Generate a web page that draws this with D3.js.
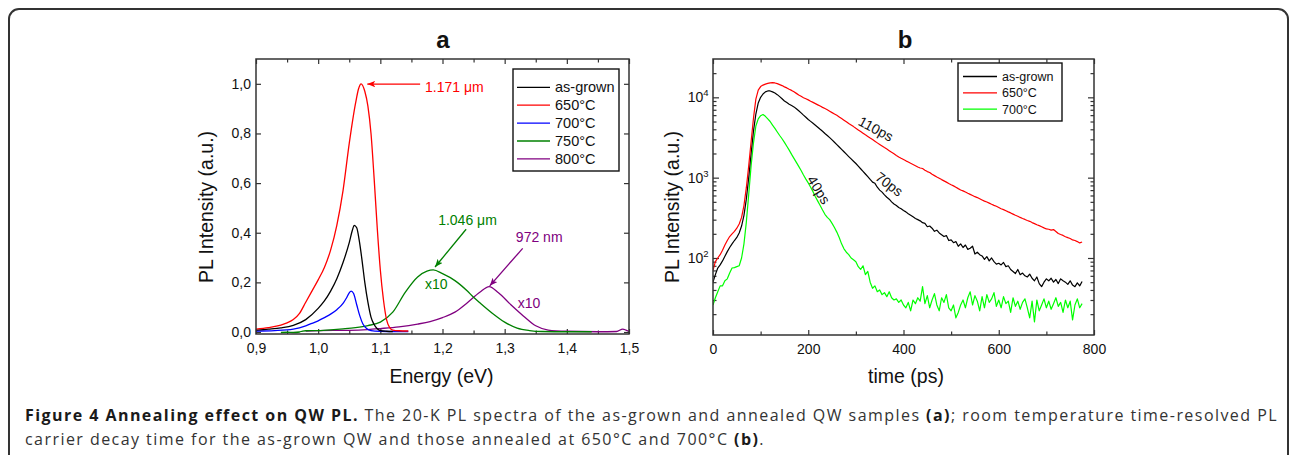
<!DOCTYPE html>
<html><head><meta charset="utf-8">
<script src="https://cdn.jsdelivr.net/npm/d3@7"></script>
<style>body{margin:0;background:#fff}svg{display:block}</style>
</head><body>
<svg id="c" width="1290" height="455"></svg>
<script>
// ---------- Panel a: 20-K PL spectra ----------
const seriesNamesA = ["as-grown", "650°C", "700°C", "750°C", "800°C"];
const seriesColorsA = ["#000000", "#ff0000", "#0000ff", "#008000", "#800080"];

const eAsGrown = [0.90,0.92,0.94,0.96,0.98,1.00,1.01,1.02,1.03,1.04,1.05,1.055,1.058,1.062,1.066,1.07,1.075,1.08,1.085,1.09,1.095,1.10,1.11,1.12];
const iAsGrown = [0.008,0.012,0.017,0.027,0.05,0.095,0.125,0.165,0.215,0.28,0.36,0.41,0.43,0.42,0.37,0.30,0.20,0.12,0.06,0.03,0.013,0.006,0.003,0.002];

const e650 = [0.90,0.92,0.94,0.95,0.96,0.97,0.98,0.99,1.00,1.01,1.02,1.03,1.04,1.05,1.06,1.065,1.069,1.075,1.08,1.085,1.09,1.095,1.10,1.105,1.11,1.115,1.12,1.13,1.145];
const i650 = [0.012,0.018,0.028,0.037,0.05,0.075,0.12,0.165,0.21,0.26,0.33,0.43,0.57,0.76,0.92,0.98,1.0,0.97,0.91,0.80,0.62,0.42,0.25,0.13,0.05,0.018,0.008,0.005,0.004];

const e700 = [0.90,0.93,0.96,0.98,0.99,1.00,1.01,1.02,1.03,1.04,1.045,1.05,1.053,1.057,1.062,1.067,1.072,1.078,1.085,1.10,1.12,1.145];
const i700 = [0.004,0.006,0.012,0.025,0.035,0.045,0.058,0.072,0.09,0.115,0.135,0.158,0.165,0.155,0.11,0.065,0.032,0.014,0.006,0.003,0.002,0.002];

const e750 = [0.94,0.95,0.96,0.97,0.975,0.98,1.00,1.02,1.04,1.06,1.08,1.10,1.12,1.14,1.16,1.175,1.185,1.20,1.22,1.24,1.25,1.26,1.28,1.30,1.32,1.34,1.36,1.40,1.44];
const i750 = [-0.002,-0.001,-0.002,0.0,0.004,0.005,0.006,0.009,0.013,0.018,0.026,0.04,0.08,0.16,0.222,0.245,0.25,0.235,0.207,0.165,0.14,0.118,0.076,0.04,0.016,0.006,0.002,0.001,0.001];

const e800 = [0.98,1.00,1.05,1.08,1.10,1.13,1.16,1.18,1.20,1.22,1.24,1.26,1.275,1.29,1.31,1.33,1.35,1.37,1.40,1.45,1.48,1.49,1.495,1.50];
const i800 = [0.004,0.006,0.007,0.01,0.014,0.021,0.032,0.042,0.058,0.08,0.118,0.16,0.183,0.158,0.11,0.065,0.025,0.008,0.003,0.001,0.002,0.012,0.008,0.002];

const energyTicks = [0.9,1.0,1.1,1.2,1.3,1.4,1.5];
const energyMinor = [0.95,1.05,1.15,1.25,1.35,1.45];
const intensityTicks = [0.0,0.2,0.4,0.6,0.8,1.0];

// ---------- Panel b: time-resolved PL ----------
const seriesNamesB = ["as-grown", "650°C", "700°C"];
const seriesColorsB = ["#000000", "#ff0000", "#00ff00"];

const timePs = [
  0,5,10,15,20,25,30,35,40,45, 50,55,60,65,70,75,80,85,90,95,
  100,105,110,115,120,125,130,135,140,145, 150,155,160,165,170,175,180,185,190,195,
  200,205,210,215,220,225,230,235,240,245, 250,255,260,265,270,275,280,285,290,295,
  300,305,310,315,320,325,330,335,340,345, 350,355,360,365,370,375,380,385,390,395,
  400,405,410,415,420,425,430,435,440,445, 450,455,460,465,470,475,480,485,490,495,
  500,505,510,515,520,525,530,535,540,545, 550,555,560,565,570,575,580,585,590,595,
  600,605,610,615,620,625,630,635,640,645, 650,655,660,665,670,675,680,685,690,695,
  700,705,710,715,720,725,730,735,740,745, 750,755,760,765,770,775];

const decayAsGrown = [
  50,62,75,82,92,105,120,135,150,165, 180,205,250,340,540,1000,2000,3800,6200,8500,
  10000,11000,11700,12000,12000,11700,11300,10800,10200,9600, 9000,8600,8200,7900,7600,7200,6800,6400,6000,5650,
  5300,5020,4750,4500,4250,4000,3780,3550,3350,3150, 2950,2760,2580,2410,2250,2100,1960,1830,1710,1600,
  1500,1390,1290,1200,1110,1030,950,880,850,760, 700,660,610,570,540,500,470,450,425,410,
  390,375,355,340,325,310,300,290,275,270, 245,250,235,215,222,205,195,185,190,165,
  168,155,160,140,150,135,145,128,132,140, 112,118,110,106,96,104,92,100,90,84,
  86,82,88,78,80,72,68,64,72,62, 65,60,58,63,56,52,58,48,44,50,
  55,52,56,50,54,48,55,52,50,47, 52,46,44,49,45,51];

const decay650 = [
  70,90,100,110,125,145,165,185,200,215, 235,265,320,450,750,1400,2800,5500,9500,12300,
  13600,14200,14600,14900,15100,15200,15100,14800,14400,14000, 13500,13100,12600,12200,11700,11200,10700,10300,9900,9600,
  9300,8950,8650,8350,8060,7780,7500,7250,7000,6720, 6450,6200,5970,5700,5450,5200,4950,4720,4520,4320,
  4110,3930,3760,3580,3410,3260,3110,2980,2840,2710, 2590,2480,2370,2270,2170,2070,1980,1890,1810,1740,
  1680,1620,1570,1510,1460,1410,1360,1320,1300,1240, 1190,1160,1100,1060,1020,985,946,912,880,845,
  815,790,760,730,703,685,662,640,620,600, 580,565,546,528,510,497,482,466,452,440,
  425,410,400,388,375,364,352,340,331,320, 310,302,293,286,276,268,259,253,245,237,
  230,228,222,226,214,202,196,191,184,179, 175,168,165,160,154,158];

const decay700 = [
  26,32,38,45,45,52,55,65,75,76, 78,80,100,150,280,620,1400,2700,4400,5400,
  5900,6100,5800,5400,5000,4500,4100,3700,3350,3050, 2750,2460,2200,1950,1740,1550,1380,1230,1080,960,
  860,760,670,580,510,450,395,350,320,300, 270,240,210,180,150,130,118,110,100,95,
  90,78,72,80,62,68,50,42,45,38, 40,35,37,33,38,32,30,31,28,30,
  26,24,28,22,30,27,32,29,44,27, 34,24,30,36,26,22,32,28,35,24,
  22,26,18,21,26,30,24,32,38,26, 34,29,22,33,24,35,28,31,37,25,
  30,24,33,27,29,21,32,25,29,23, 28,31,24,18,29,16,30,22,26,31,
  24,29,23,27,32,25,28,21,30,24, 29,17,26,31,24,27];

const timeTicks = [0,200,400,600,800];
const timeMinor = [100,300,500,700];
const decadeTicks = [100,1000,10000];
const decadeLabels = ["2","3","4"];
const logMinor = [20,30,40,50,60,70,80,90,200,300,400,500,600,700,800,900,2000,3000,4000,5000,6000,7000,8000,9000,20000];

// annotation text (positions in data units)
const annotA = [
  {text:"1.171 μm", color:"#ff0000", x:1.172, y:0.968},
  {text:"1.046 μm", color:"#008000", x:1.193, y:0.432},
  {text:"x10", color:"#008000", x:1.172, y:0.173},
  {text:"972 nm", color:"#800080", x:1.318, y:0.361},
  {text:"x10", color:"#800080", x:1.321, y:0.098}
];
const arrowsA = [
  {color:"#ff0000", x1:1.164, y1:0.999, x2:1.079, y2:0.999},
  {color:"#008000", x1:1.238, y1:0.414, x2:1.188, y2:0.262},
  {color:"#800080", x1:1.329, y1:0.337, x2:1.276, y2:0.186}
];
const annotB = [
  {text:"110ps", t:342, v:4040, angle:28},
  {text:"70ps", t:370, v:830, angle:37},
  {text:"40ps", t:222, v:705, angle:58}
];

// ---------- drawing ----------
const FONT = "'Liberation Sans', Arial, sans-serif";
const svg = d3.select("#c");
const defs = svg.append("defs");

// outer rounded frame
svg.append("rect").attr("x",9).attr("y",9).attr("width",1279).attr("height",520)
  .attr("rx",10).attr("fill","none").attr("stroke","#333").attr("stroke-width",2);

const xA = d3.scaleLinear().domain([0.9,1.5]).range([256,629]);
const yA = d3.scaleLinear().domain([-0.008,1.1]).range([334,59]);
const xB = d3.scaleLinear().domain([0,800]).range([713,1094]);
const yB = d3.scaleLog().domain([11,30000]).range([335,59]);

function styleAxis(g, size) {
  g.select(".domain").remove();
  g.selectAll(".tick line").attr("stroke","#333").attr("stroke-width",1.2);
  g.selectAll("text").attr("font-family",FONT).attr("font-size",size).attr("fill","#111");
  g.attr("font-family",FONT);
}

function frame(x, y, id) {
  const [x0,x1] = x.range(), [y0,y1] = y.range();
  defs.append("clipPath").attr("id",id).append("rect")
    .attr("x",x0).attr("y",y1).attr("width",x1-x0).attr("height",y0-y1);
  return {x0,x1,y0,y1};
}

// ===== Panel a =====
const fA = frame(xA, yA, "clipA");
const fmtComma = d => d.toFixed(1).replace(".", ",");
const gA = svg.append("g");
gA.append("g").attr("transform",`translate(0,${fA.y0})`)
  .call(d3.axisBottom(xA).tickValues(energyTicks).tickSize(-5).tickPadding(9).tickFormat(fmtComma))
  .call(g=>styleAxis(g,14));
gA.append("g").attr("transform",`translate(0,${fA.y0})`)
  .call(d3.axisBottom(xA).tickValues(energyMinor).tickSize(-3.5).tickFormat(""))
  .call(g=>styleAxis(g,14));
gA.append("g").attr("transform",`translate(0,${fA.y1})`)
  .call(d3.axisTop(xA).tickValues(energyTicks).tickSize(-5).tickFormat(""))
  .call(g=>styleAxis(g,14));
gA.append("g").attr("transform",`translate(0,${fA.y1})`)
  .call(d3.axisTop(xA).tickValues(energyMinor).tickSize(-3.5).tickFormat(""))
  .call(g=>styleAxis(g,14));
gA.append("g").attr("transform",`translate(${fA.x0},0)`)
  .call(d3.axisLeft(yA).tickValues(intensityTicks).tickSize(-5).tickPadding(5).tickFormat(fmtComma))
  .call(g=>styleAxis(g,14));
gA.append("g").attr("transform",`translate(${fA.x1},0)`)
  .call(d3.axisRight(yA).tickValues(intensityTicks).tickSize(-5).tickFormat(""))
  .call(g=>styleAxis(g,14));

const seriesA = [[eAsGrown,iAsGrown],[e650,i650],[e700,i700],[e750,i750],[e800,i800]]
  .map(([e,v],k)=>({color:seriesColorsA[k], pts:e.map((x,i)=>[x,v[i]])}));
const lineA = d3.line().x(d=>xA(d[0])).y(d=>yA(d[1])).curve(d3.curveMonotoneX);
const drawOrderA = [4,3,2,0,1];
gA.append("g").attr("clip-path","url(#clipA)")
  .selectAll("path").data(drawOrderA.map(k=>seriesA[k])).join("path")
  .attr("d",d=>lineA(d.pts)).attr("fill","none").attr("stroke",d=>d.color).attr("stroke-width",1.3);

gA.append("rect").attr("x",fA.x0).attr("y",fA.y1).attr("width",fA.x1-fA.x0).attr("height",fA.y0-fA.y1)
  .attr("fill","none").attr("stroke","#333").attr("stroke-width",1.5);

// arrows
arrowsA.forEach((a,i)=>{
  defs.append("marker").attr("id","arr"+i).attr("viewBox","0 0 10 8").attr("refX",10).attr("refY",4)
    .attr("markerWidth",8).attr("markerHeight",6.5).attr("markerUnits","userSpaceOnUse").attr("orient","auto")
    .append("path").attr("d","M0,0 L10,4 L0,8 L2.5,4 z").attr("fill",a.color);
});
gA.selectAll("line.arrow").data(arrowsA).join("line").attr("class","arrow")
  .attr("x1",d=>xA(d.x1)).attr("y1",d=>yA(d.y1)).attr("x2",d=>xA(d.x2)).attr("y2",d=>yA(d.y2))
  .attr("stroke",d=>d.color).attr("stroke-width",1.3).attr("marker-end",(d,i)=>`url(#arr${i})`);
gA.selectAll("text.ann").data(annotA).join("text").attr("class","ann")
  .attr("x",d=>xA(d.x)).attr("y",d=>yA(d.y)).attr("fill",d=>d.color)
  .attr("font-family",FONT).attr("font-size",14).text(d=>d.text);

// legend a
const legA = gA.append("g");
legA.append("rect").attr("x",513).attr("y",69).attr("width",106).attr("height",102)
  .attr("fill","#fff").attr("stroke","#111").attr("stroke-width",1.4);
seriesNamesA.forEach((n,i)=>{
  const yy = 87.3 + i*17.9;
  legA.append("line").attr("x1",517).attr("x2",550).attr("y1",yy).attr("y2",yy)
    .attr("stroke",seriesColorsA[i]).attr("stroke-width",1.3);
  legA.append("text").attr("x",555).attr("y",yy+5).attr("font-family",FONT).attr("font-size",14.5)
    .attr("fill","#111").text(n);
});

// titles a
svg.append("text").attr("x",443).attr("y",48).attr("text-anchor","middle").attr("font-family",FONT)
  .attr("font-weight","bold").attr("font-size",24).attr("fill","#111").text("a");
svg.append("text").attr("x",(fA.x0+fA.x1)/2 - 1).attr("y",383).attr("text-anchor","middle")
  .attr("font-family",FONT).attr("font-size",19.5).attr("fill","#111").text("Energy (eV)");
svg.append("text").attr("transform","translate(213,207) rotate(-90)").attr("text-anchor","middle")
  .attr("font-family",FONT).attr("font-size",19.5).attr("fill","#111").text("PL Intensity (a.u.)");

// ===== Panel b =====
const fB = frame(xB, yB, "clipB");
const gB = svg.append("g");
gB.append("g").attr("transform",`translate(0,${fB.y0})`)
  .call(d3.axisBottom(xB).tickValues(timeTicks).tickSize(-5).tickPadding(9).tickFormat(d3.format("d")))
  .call(g=>styleAxis(g,14));
gB.append("g").attr("transform",`translate(0,${fB.y0})`)
  .call(d3.axisBottom(xB).tickValues(timeMinor).tickSize(-3.5).tickFormat(""))
  .call(g=>styleAxis(g,14));
gB.append("g").attr("transform",`translate(0,${fB.y1})`)
  .call(d3.axisTop(xB).tickValues(timeTicks).tickSize(-5).tickFormat(""))
  .call(g=>styleAxis(g,14));
gB.append("g").attr("transform",`translate(0,${fB.y1})`)
  .call(d3.axisTop(xB).tickValues(timeMinor).tickSize(-3.5).tickFormat(""))
  .call(g=>styleAxis(g,14));
[[fB.x0, d3.axisLeft],[fB.x1, d3.axisRight]].forEach(([xx,ax])=>{
  gB.append("g").attr("transform",`translate(${xx},0)`)
    .call(ax(yB).tickValues(decadeTicks).tickSize(-6).tickFormat(""))
    .call(g=>styleAxis(g,14));
  gB.append("g").attr("transform",`translate(${xx},0)`)
    .call(ax(yB).tickValues(logMinor).tickSize(-3.5).tickFormat(""))
    .call(g=>styleAxis(g,14));
});
// decade labels with superscripts
const decLab = gB.selectAll("text.dec").data(decadeTicks).join("text").attr("class","dec")
  .attr("x",fB.x0-4.5).attr("y",d=>yB(d)+5).attr("text-anchor","end")
  .attr("font-family",FONT).attr("font-size",14).attr("fill","#111");
decLab.append("tspan").text("10");
decLab.append("tspan").attr("dy",-6).attr("font-size",9.5).text((d,i)=>decadeLabels[i]);

const seriesB = [decayAsGrown, decay650, decay700]
  .map((v,k)=>({color:seriesColorsB[k], pts:timePs.map((t,i)=>[t,v[i]])}));
const lineB = d3.line().x(d=>xB(d[0])).y(d=>yB(d[1]));
gB.append("g").attr("clip-path","url(#clipB)")
  .selectAll("path").data([seriesB[2],seriesB[0],seriesB[1]]).join("path")
  .attr("d",d=>lineB(d.pts)).attr("fill","none").attr("stroke",d=>d.color).attr("stroke-width",1.2)
  .attr("stroke-linejoin","round");

gB.append("rect").attr("x",fB.x0).attr("y",fB.y1).attr("width",fB.x1-fB.x0).attr("height",fB.y0-fB.y1)
  .attr("fill","none").attr("stroke","#333").attr("stroke-width",1.5);

gB.selectAll("text.annb").data(annotB).join("text").attr("class","annb")
  .attr("transform",d=>`translate(${xB(d.t)},${yB(d.v)}) rotate(${d.angle})`)
  .attr("text-anchor","middle").attr("dy","0.35em")
  .attr("font-family",FONT).attr("font-size",14).attr("fill","#111").text(d=>d.text);

// legend b
const legB = gB.append("g");
legB.append("rect").attr("x",958).attr("y",63).attr("width",104).attr("height",58)
  .attr("fill","#fff").attr("stroke","#111").attr("stroke-width",1.4);
seriesNamesB.forEach((n,i)=>{
  const yy = 76.5 + i*16.3;
  legB.append("line").attr("x1",963).attr("x2",997).attr("y1",yy).attr("y2",yy)
    .attr("stroke",seriesColorsB[i]).attr("stroke-width",1.3);
  legB.append("text").attr("x",1002).attr("y",yy+4.5).attr("font-family",FONT).attr("font-size",12.5)
    .attr("fill","#111").text(n);
});

svg.append("text").attr("x",905).attr("y",48).attr("text-anchor","middle").attr("font-family",FONT)
  .attr("font-weight","bold").attr("font-size",24).attr("fill","#111").text("b");
svg.append("text").attr("x",906).attr("y",383).attr("text-anchor","middle")
  .attr("font-family",FONT).attr("font-size",19.5).attr("fill","#111").text("time (ps)");
svg.append("text").attr("transform","translate(679,207) rotate(-90)").attr("text-anchor","middle")
  .attr("font-family",FONT).attr("font-size",19.5).attr("fill","#111").text("PL Intensity (a.u.)");

// ===== Caption =====
const CAPFONT = "'Open Sans', 'Noto Sans', sans-serif";
const CAPSIZE = 16;
const cap1 = svg.append("text").attr("x",25).attr("y",421).attr("font-family",CAPFONT).attr("font-size",CAPSIZE).attr("fill","#333");
cap1.append("tspan").attr("font-weight","bold").attr("fill","#1a1a1a").text("Figure 4 Annealing effect on QW PL.");
cap1.append("tspan").text(" The 20-K PL spectra of the as-grown and annealed QW samples ");
cap1.append("tspan").attr("font-weight","bold").attr("fill","#1a1a1a").text("(a)");
cap1.append("tspan").text("; room temperature time-resolved PL");
const cap2 = svg.append("text").attr("x",25).attr("y",444.5).attr("font-family",CAPFONT).attr("font-size",CAPSIZE).attr("fill","#333");
cap2.append("tspan").text("carrier decay time for the as-grown QW and those annealed at 650°C and 700°C ");
cap2.append("tspan").attr("font-weight","bold").attr("fill","#1a1a1a").text("(b)");
cap2.append("tspan").text(".");
// spread line 1 to its measured width through letter spacing; same spacing for line 2
const w1 = cap1.node().getComputedTextLength();
const n1 = cap1.text().length;
const ls = (1253 - w1) / n1;
cap1.attr("letter-spacing", ls); cap2.attr("letter-spacing", ls);
</script>
</body></html>
